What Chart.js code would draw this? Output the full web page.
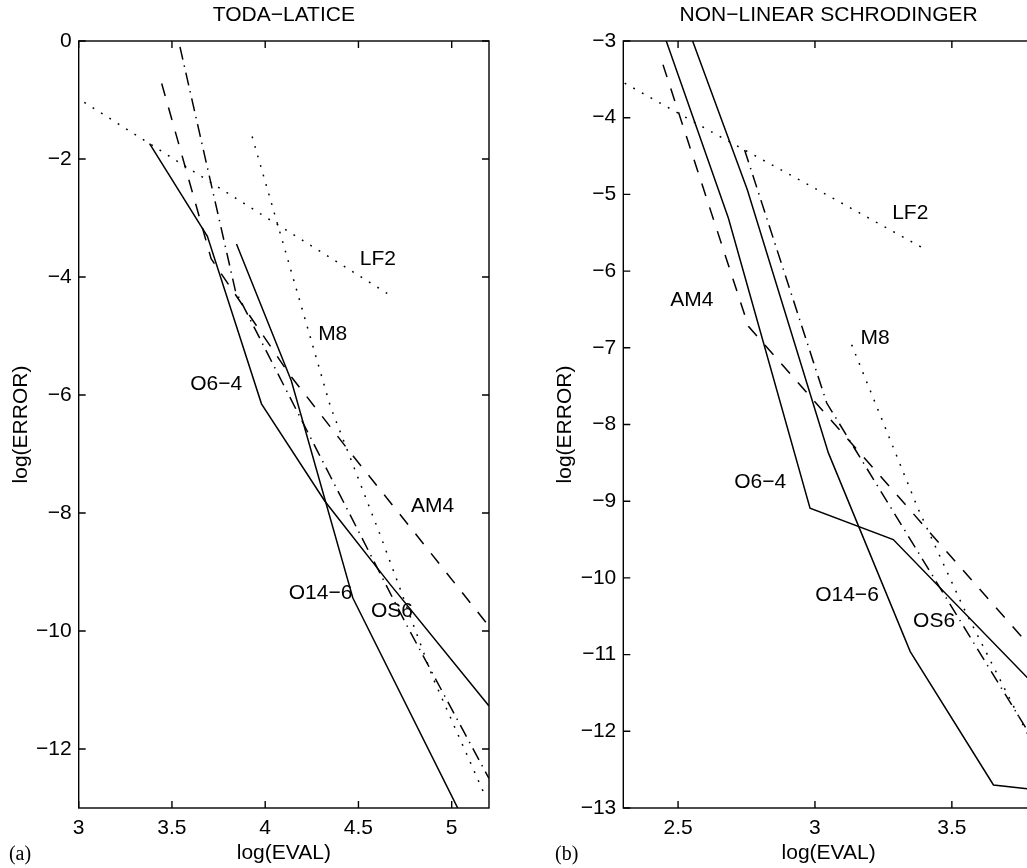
<!DOCTYPE html>
<html>
<head>
<meta charset="utf-8">
<script src="https://cdn.jsdelivr.net/npm/chart.js@4.4.1/dist/chart.umd.min.js"></script>
<style>
  html, body { margin: 0; padding: 0; background: #fff; overflow: hidden; }
  body { width: 1027px; height: 868px; position: relative; }
  canvas { position: absolute; top: 0; }
  #toda { left: 0; }
  #nls { left: 510px; }
</style>
</head>
<body>
<canvas id="toda" width="500" height="868"></canvas>
<canvas id="nls" width="540" height="868"></canvas>
<script>
// ---- panel (a): Toda lattice ----
const todaXTicks = [3, 3.5, 4, 4.5, 5];
const todaYTicks = [0, -2, -4, -6, -8, -10, -12];

const todaLF2X = [3.03, 3.5, 4.0, 4.69];
const todaLF2Y = [-1.04, -1.98, -2.98, -4.35];
const todaM8X = [3.93, 4.13, 4.35, 4.62, 4.9, 5.18];
const todaM8Y = [-1.62, -3.8, -6.2, -8.4, -10.8, -12.8];
const todaAM4X = [3.445, 3.71, 4.13, 4.45, 4.78, 5.2];
const todaAM4Y = [-0.72, -3.69, -5.65, -6.95, -8.25, -9.92];
const todaOS6X = [3.543, 3.84, 4.28, 4.75, 5.2];
const todaOS6Y = [-0.1, -4.23, -6.95, -9.85, -12.5];
const todaO64X = [3.38, 3.69, 3.98, 4.32, 4.67, 5.2];
const todaO64Y = [-1.74, -3.31, -6.15, -7.8, -9.21, -11.27];
const todaO146X = [3.846, 4.14, 4.47, 5.04];
const todaO146Y = [-3.44, -5.76, -9.44, -13.05];

const todaLabels = ['LF2', 'M8', 'O6\u22124', 'AM4', 'O14\u22126', 'OS6'];
const todaLabelX = [4.604, 4.362, 3.737, 4.897, 4.297, 4.68];
const todaLabelY = [-3.70, -4.97, -5.82, -7.88, -9.36, -9.67];

// ---- panel (b): non-linear Schrodinger ----
const nlsXTicks = [2.5, 3, 3.5];
const nlsYTicks = [-3, -4, -5, -6, -7, -8, -9, -10, -11, -12, -13];

const nlsLF2X = [2.305, 2.65, 3.03, 3.41];
const nlsLF2Y = [-3.55, -4.24, -4.98, -5.73];
const nlsM8X = [3.134, 3.378, 3.54, 3.8];
const nlsM8Y = [-6.96, -9.11, -10.37, -12.2];
const nlsAM4X = [2.445, 2.757, 3.8];
const nlsAM4Y = [-3.31, -6.72, -10.95];
const nlsOS6X = [2.743, 3.043, 3.8];
const nlsOS6Y = [-4.42, -7.72, -12.13];
const nlsO64X = [2.45, 2.684, 2.982, 3.286, 3.8];
const nlsO64Y = [-2.93, -5.31, -9.09, -9.5, -11.39];
const nlsO146X = [2.547, 2.753, 3.049, 3.348, 3.652, 3.8];
const nlsO146Y = [-2.94, -4.94, -8.37, -10.96, -12.7, -12.76];

const nlsLabels = ['LF2', 'AM4', 'M8', 'O6\u22124', 'O14\u22126', 'OS6'];
const nlsLabelX = [3.348, 2.55, 3.22, 2.80, 3.117, 3.435];
const nlsLabelY = [-5.243, -6.374, -6.874, -8.755, -10.22, -10.57];

const FONT = '"Liberation Sans", Arial, Helvetica, sans-serif';
const DOTTED = [1.8, 8.1];
const DASHED = [13, 12];
const DASHDOT = [13, 6, 1.4, 6];

Chart.defaults.font.family = FONT;
Chart.defaults.font.size = 21;
Chart.defaults.color = '#000';

function series(xs, ys, dash) {
    return {
        data: xs.map((x, i) => ({ x: x, y: ys[i] })),
        borderColor: '#000',
        borderWidth: 1.5,
        borderDash: dash,
        pointRadius: 0,
        showLine: true,
        tension: 0,
        fill: false
    };
}

const minus = v => (v < 0 ? '\u2212' + Math.abs(v) : String(v));

// box, inward ticks, curve labels, title and panel letter
const frame = {
    id: 'frame',
    afterDraw(chart, args, opts) {
        const { ctx, chartArea: a, scales: { x, y } } = chart;
        ctx.save();
        ctx.strokeStyle = '#000';
        ctx.lineWidth = 1.4;
        ctx.setLineDash([]);
        ctx.strokeRect(a.left, a.top, a.right - a.left, a.bottom - a.top);
        ctx.beginPath();
        x.ticks.forEach(t => {
            const px = x.getPixelForValue(t.value);
            ctx.moveTo(px, a.bottom); ctx.lineTo(px, a.bottom - 7);
            ctx.moveTo(px, a.top); ctx.lineTo(px, a.top + 7);
        });
        y.ticks.forEach(t => {
            const py = y.getPixelForValue(t.value);
            ctx.moveTo(a.left, py); ctx.lineTo(a.left + 7, py);
            ctx.moveTo(a.right, py); ctx.lineTo(a.right - 7, py);
        });
        ctx.stroke();

        ctx.fillStyle = '#000';
        ctx.font = '21px ' + FONT;
        ctx.textAlign = 'center';
        ctx.textBaseline = 'middle';
        opts.labels.forEach((txt, i) => {
            ctx.fillText(txt, x.getPixelForValue(opts.labelX[i]), y.getPixelForValue(opts.labelY[i]));
        });
        ctx.fillText(opts.title, (a.left + a.right) / 2, 15.6);

        ctx.font = '20px "Liberation Serif", "Times New Roman", serif';
        ctx.fillText(opts.panel, opts.panelX, 855);
        ctx.restore();
    }
};

function makeChart(id, cfg) {
    return new Chart(document.getElementById(id), {
        type: 'scatter',
        data: { datasets: cfg.datasets },
        options: {
            responsive: false,
            animation: false,
            events: [],
            devicePixelRatio: 1,
            layout: { padding: { top: 41, right: cfg.padRight, left: 0, bottom: 0 } },
            plugins: {
                legend: { display: false },
                tooltip: { enabled: false },
                frame: cfg.frame
            },
            scales: {
                x: {
                    type: 'linear',
                    min: cfg.xMin, max: cfg.xMax,
                    grid: { display: false, drawTicks: false, tickLength: 0 },
                    border: { display: false },
                    afterBuildTicks: s => { s.ticks = cfg.xTicks.map(v => ({ value: v })); },
                    afterFit: s => { s.height = 60; },
                    ticks: { autoSkip: false, maxRotation: 0, padding: 7.4, callback: v => String(v) },
                    title: { display: true, text: 'log(EVAL)', padding: { top: 0, bottom: 2 } }
                },
                y: {
                    type: 'linear',
                    min: cfg.yMin, max: cfg.yMax,
                    grid: { display: false, drawTicks: false, tickLength: 0 },
                    border: { display: false },
                    afterBuildTicks: s => { s.ticks = cfg.yTicks.map(v => ({ value: v })); },
                    afterFit: s => { s.width = cfg.yWidth; },
                    ticks: { autoSkip: false, padding: 7, callback: minus },
                    title: { display: true, text: 'log(ERROR)', padding: { top: cfg.yTitlePad, bottom: 0 } }
                }
            }
        },
        plugins: [frame]
    });
}

makeChart('toda', {
    xMin: 3, xMax: 5.2, yMin: -13, yMax: 0,
    xTicks: todaXTicks, yTicks: todaYTicks,
    yWidth: 78.7, yTitlePad: 8.4, padRight: 11,
    datasets: [
        series(todaLF2X, todaLF2Y, DOTTED),
        series(todaM8X, todaM8Y, DOTTED),
        series(todaAM4X, todaAM4Y, DASHED),
        series(todaOS6X, todaOS6Y, DASHDOT),
        series(todaO64X, todaO64Y, []),
        series(todaO146X, todaO146Y, [])
    ],
    frame: {
        title: 'TODA\u2212LATICE', panel: '(a)', panelX: 20,
        labels: todaLabels, labelX: todaLabelX, labelY: todaLabelY
    }
});

makeChart('nls', {
    xMin: 2.3, xMax: 3.8, yMin: -13, yMax: -3,
    xTicks: nlsXTicks, yTicks: nlsYTicks,
    yWidth: 113.3, yTitlePad: 42.4, padRight: 16,
    datasets: [
        series(nlsLF2X, nlsLF2Y, DOTTED),
        series(nlsM8X, nlsM8Y, DOTTED),
        series(nlsAM4X, nlsAM4Y, DASHED),
        series(nlsOS6X, nlsOS6Y, DASHDOT),
        series(nlsO64X, nlsO64Y, []),
        series(nlsO146X, nlsO146Y, [])
    ],
    frame: {
        title: 'NON\u2212LINEAR SCHRODINGER', panel: '(b)', panelX: 56.7,
        labels: nlsLabels, labelX: nlsLabelX, labelY: nlsLabelY
    }
});
</script>
</body>
</html>
